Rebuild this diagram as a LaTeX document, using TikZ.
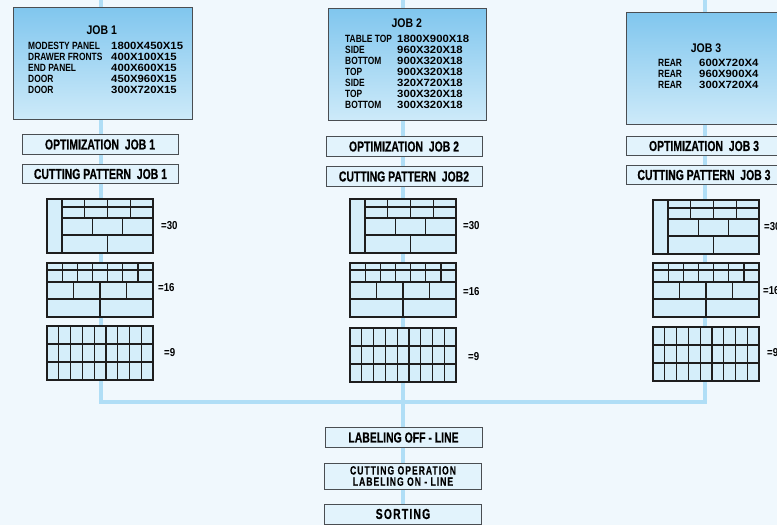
\documentclass[tikz,border=0pt]{standalone}
\usepackage{fontspec}
\usepackage{array}
\setmainfont{Liberation Sans}
\newfontfamily\boxfont[FakeStretch=0.72,FakeBold=0.4]{Liberation Sans}
\newfontfamily\spacedfont[FakeStretch=0.72,FakeBold=0.4,LetterSpace=8]{Liberation Sans}
\newfontfamily\titlefont[FakeStretch=0.84]{Liberation Sans}
\newfontfamily\partfont[FakeStretch=0.8]{Liberation Sans}
\newfontfamily\sizefont[FakeStretch=1.08]{Liberation Sans}

\definecolor{paper}{HTML}{F0F8FD}
\definecolor{flowblue}{HTML}{B0DEF6}
\definecolor{jobtop}{HTML}{80C6EE}
\definecolor{jobbot}{HTML}{CDEAF9}
\definecolor{boxfill}{HTML}{E2F3FC}
\definecolor{boxedge}{HTML}{4A4E52}
\definecolor{cellfill}{HTML}{D5EEFA}
\definecolor{cellline}{HTML}{1E1E1E}

\tikzset{
  flow/.style={draw=flowblue, line width=4pt},
  jobbox/.style={draw=boxedge, line width=0.8pt, top color=jobtop, bottom color=jobbot},
  stepbox/.style={draw=boxedge, line width=0.9pt, fill=boxfill, minimum width=156pt,
    minimum height=19.5pt, inner sep=0pt, font={\boxfont\bfseries\fontsize{14.5}{15}\selectfont}},
  sheetcells/.style={draw=cellline, line width=1.3pt, fill=cellfill},
  sheetcut/.style={draw=cellline, line width=1.2pt},
  sheetcount/.style={anchor=west, inner sep=0pt, font={\titlefont\bfseries\fontsize{11.5}{12}\selectfont}},
  layout a/.pic={
    \path[sheetcells] (0,0) rectangle (106,54);
    \draw[sheetcut] (15,0) -- (15,54)
      (15,8) -- (106,8) (15,19) -- (106,19) (15,36) -- (106,36);
    \foreach \x in {37.75,60.5,83.25} \draw[sheetcut] (\x,0) -- (\x,19);
    \foreach \x in {45.3,75.7} \draw[sheetcut] (\x,19) -- (\x,36);
    \draw[sheetcut] (60.5,36) -- (60.5,54);
  },
  layout b/.pic={
    \path[sheetcells] (0,0) rectangle (106,54);
    \draw[sheetcut] (0,7) -- (106,7) (0,19) -- (106,19) (0,36) -- (106,36);
    \foreach \x in {15.1,30.3,45.4,60.6,75.7,90.9} \draw[sheetcut] (\x,0) -- (\x,19);
    \foreach \x in {26.5,53,79.5} \draw[sheetcut] (\x,19) -- (\x,36);
    \draw[sheetcut] (53,36) -- (53,54);
  },
  layout c/.pic={
    \path[sheetcells] (0,0) rectangle (106,54);
    \draw[sheetcut] (0,18) -- (106,18) (0,36) -- (106,36);
    \foreach \i in {1,...,8} \draw[sheetcut] (\i*11.78,0) -- (\i*11.78,54);
  }
}

\begin{document}
\begin{tikzpicture}[x=1pt,y=-1pt]
  \useasboundingbox (0,0) rectangle (777,525);
  \clip (0,0) rectangle (777,525);
  \fill[paper] (0,0) rectangle (777,525);

  % flow lines behind the boxes
  \coordinate (in-1) at (101,0);
  \coordinate (in-2) at (403,0);
  \coordinate (in-3) at (705,0);
  \coordinate (merge) at (403,402);
  \coordinate (out) at (403,525);
  \draw[flow] (in-1) |- (merge);
  \draw[flow] (in-3) |- (merge);
  \draw[flow] (in-2) -- (out);

  % jobs
  \node[jobbox, minimum width=179pt, minimum height=112pt] (job-1) at (102.5,63) {};
  \node[jobbox, minimum width=158pt, minimum height=112pt] (job-2) at (407,64) {};
  \node[jobbox, minimum width=158pt, minimum height=112pt] (job-3) at (705,68) {};

  \begin{scope}[every node/.style={inner sep=0pt, font={\titlefont\bfseries\fontsize{12.5}{13}\selectfont}}]
    \node (title-1) at (101.7,30) {JOB 1};
    \node (title-2) at (406.7,23.3) {JOB 2};
    \node (title-3) at (706,47.8) {JOB 3};
  \end{scope}

  \begin{scope}[every node/.style={anchor=north west, inner sep=0pt,
                font={\bfseries\fontsize{10.5}{11}\selectfont}}]
    \node (parts-1) at (28,41.4) {\begin{tabular}{@{}>{\partfont}p{83pt}@{}>{\sizefont}l@{}}
      MODESTY PANEL & 1800X450X15\\
      DRAWER FRONTS & 400X100X15\\
      END PANEL & 400X600X15\\
      DOOR & 450X960X15\\
      DOOR & 300X720X15
    \end{tabular}};
    \node (parts-2) at (345,34.6) {\begin{tabular}{@{}>{\partfont}p{52pt}@{}>{\sizefont}l@{}}
      TABLE TOP & 1800X900X18\\
      SIDE & 960X320X18\\
      BOTTOM & 900X320X18\\
      TOP & 900X320X18\\
      SIDE & 320X720X18\\
      TOP & 300X320X18\\
      BOTTOM & 300X320X18
    \end{tabular}};
    \node (parts-3) at (658,58.2) {\begin{tabular}{@{}>{\partfont}p{41pt}@{}>{\sizefont}l@{}}
      REAR & 600X720X4\\
      REAR & 960X900X4\\
      REAR & 300X720X4
    \end{tabular}};
  \end{scope}

  % optimization and cutting patterns
  \begin{scope}[every node/.style={stepbox}]
    \node (opt-1) at (100,144.5) {OPTIMIZATION\ \ JOB 1};
    \node (cut-1) at (100.5,174) {CUTTING PATTERN\ \ JOB 1};
    \node (opt-2) at (404,146.5) {OPTIMIZATION\ \ JOB 2};
    \node (cut-2) at (404,176.5) {CUTTING PATTERN\ \ JOB2};
    \node (opt-3) at (704,146) {OPTIMIZATION\ \ JOB 3};
    \node (cut-3) at (704,175) {CUTTING PATTERN\ \ JOB 3};
  \end{scope}

  \pic at (47,199) {layout a};
  \pic at (47,263) {layout b};
  \pic at (47,326) {layout c};
  \pic at (350,199) {layout a};
  \pic at (350,263) {layout b};
  \pic at (350,328) {layout c};
  \pic at (653,200) {layout a};
  \pic at (653,263) {layout b};
  \pic at (653,327) {layout c};

  \node[sheetcount] (sheets-1a) at (161,225.7) {=30};
  \node[sheetcount] (sheets-1b) at (158,288) {=16};
  \node[sheetcount] (sheets-1c) at (164,352.7) {=9};
  \node[sheetcount] (sheets-2a) at (463,225.7) {=30};
  \node[sheetcount] (sheets-2b) at (463,291.7) {=16};
  \node[sheetcount] (sheets-2c) at (468,356.7) {=9};
  \node[sheetcount] (sheets-3a) at (764,227) {=30};
  \node[sheetcount] (sheets-3b) at (763,290.7) {=16};
  \node[sheetcount] (sheets-3c) at (767,352.3) {=9};

  % after the merge
  \begin{scope}[every node/.style={stepbox, minimum width=157pt}]
    \node (label-off) at (403.5,437.5) {LABELING OFF - LINE};
    \node[minimum height=26pt, align=center,
          font={\spacedfont\bfseries\fontsize{12}{11.2}\selectfont}] (cut-op) at (403,476)
          {CUTTING OPERATION\\LABELING ON - LINE};
    \node[minimum height=20pt, font={\spacedfont\bfseries\fontsize{14.5}{15}\selectfont}]
          (sort) at (403,514) {SORTING};
  \end{scope}
\end{tikzpicture}
\end{document}
